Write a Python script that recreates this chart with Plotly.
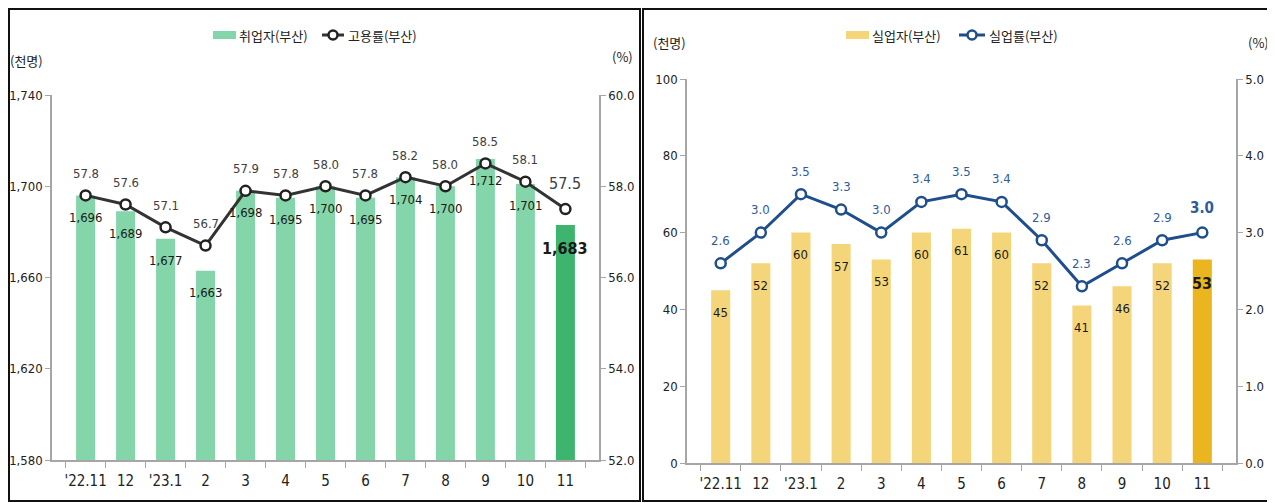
import plotly.graph_objects as go
from plotly.subplots import make_subplots

# ---------------- data ----------------
months = ["'22.11", "12", "'23.1", "2", "3", "4", "5", "6", "7", "8", "9", "10", "11"]
employed = [1696, 1689, 1677, 1663, 1698, 1695, 1700, 1695, 1704, 1700, 1712, 1701, 1683]
emp_rate = [57.8, 57.6, 57.1, 56.7, 57.9, 57.8, 58.0, 57.8, 58.2, 58.0, 58.5, 58.1, 57.5]
unemployed = [45, 52, 60, 57, 53, 60, 61, 60, 52, 41, 46, 52, 53]
unemp_rate = [2.6, 3.0, 3.5, 3.3, 3.0, 3.4, 3.5, 3.4, 2.9, 2.3, 2.6, 2.9, 3.0]

left_ticks = [1580, 1620, 1660, 1700, 1740]
left_ticks2 = [52.0, 54.0, 56.0, 58.0, 60.0]
right_ticks = [0, 20, 40, 60, 80, 100]
right_ticks2 = [0.0, 1.0, 2.0, 3.0, 4.0, 5.0]

# ---------------- style ----------------
OFF = 8  # page body margin in the browser
W, H = 1275 - OFF, 503 - OFF
FONT = "Liberation Sans Narrow, DejaVu Sans Condensed, Noto Sans CJK KR, sans-serif"
KFONT = "Noto Sans CJK KR, sans-serif"
G_BAR, G_LAST = "#84D6AA", "#3DB56F"
Y_BAR, Y_LAST = "#F5D57A", "#EBB520"
BLACK_LINE = "#333333"
BLUE_LINE = "#1F4E8C"
AXIS_C = "#A6A6A6"


def px(x):
    return (x - OFF) / W


def py(y):
    return 1 - (y - OFF) / H


n = len(months)
fig = make_subplots(rows=1, cols=2, specs=[[{"secondary_y": True}, {"secondary_y": True}]])

fig.add_trace(go.Bar(x=months, y=employed, width=0.475,
                     marker=dict(color=[G_BAR] * (n - 1) + [G_LAST], line=dict(width=0)),
                     showlegend=False, hoverinfo="skip"), row=1, col=1, secondary_y=False)
fig.add_trace(go.Scatter(x=months, y=emp_rate, mode="lines+markers",
                         line=dict(color=BLACK_LINE, width=3),
                         marker=dict(size=10, color="white", line=dict(color="#222222", width=2.5)),
                         showlegend=False, hoverinfo="skip"), row=1, col=1, secondary_y=True)
fig.add_trace(go.Bar(x=months, y=unemployed, width=0.475,
                     marker=dict(color=[Y_BAR] * (n - 1) + [Y_LAST], line=dict(width=0)),
                     showlegend=False, hoverinfo="skip"), row=1, col=2, secondary_y=False)
fig.add_trace(go.Scatter(x=months, y=unemp_rate, mode="lines+markers",
                         line=dict(color=BLUE_LINE, width=3),
                         marker=dict(size=10, color="white", line=dict(color=BLUE_LINE, width=2.5)),
                         showlegend=False, hoverinfo="skip"), row=1, col=2, secondary_y=True)

ann = []
for i in range(n):
    last = i == n - 1
    ann.append(dict(x=i, y=employed[i], xref="x", yref="y", text=f"{employed[i]:,}",
                    showarrow=False, yshift=-22 if not last else -23,
                    font=dict(family=FONT, size=13 if not last else 16, color="#1a1a1a",
                              weight="bold" if last else "normal")))
    ann.append(dict(x=i, y=emp_rate[i], xref="x", yref="y2", text=f"{emp_rate[i]:.1f}",
                    showarrow=False, yshift=22 if not last else 26,
                    font=dict(family=FONT, size=13 if not last else 16, color="#404040")))
    ann.append(dict(x=i, y=unemployed[i], xref="x2", yref="y3", text=f"{unemployed[i]}",
                    showarrow=False, yshift=-22 if not last else -24,
                    font=dict(family=FONT, size=13 if not last else 16, color="#1a1a1a",
                              weight="bold" if last else "normal")))
    ann.append(dict(x=i, y=unemp_rate[i], xref="x2", yref="y4", text=f"{unemp_rate[i]:.1f}",
                    showarrow=False, yshift=23 if not last else 25,
                    font=dict(family=FONT, size=13 if not last else 15, color="#2E5C9A",
                              weight="bold" if last else "normal")))


def label(x, y, t, anchor="left", size=14, fam=KFONT, color="#222222"):
    ann.append(dict(x=px(x), y=py(y), xref="paper", yref="paper", text=t, showarrow=False,
                    xanchor=anchor, yanchor="middle", font=dict(family=fam, size=size, color=color)))


# axis unit titles
label(8, 60, "(천명)", size=13)
label(610, 57, "(%)", size=13)
label(651, 42, "(천명)", size=13)
label(1246, 42, "(%)", size=13)

# custom legends
label(237, 35, "취업자(부산)", size=13)
label(346, 35, "고용률(부산)", size=13)
label(870, 35, "실업자(부산)", size=13)
label(987, 35, "실업률(부산)", size=13)

shapes = [
    dict(type="rect", xref="paper", yref="paper", x0=px(213), x1=px(236), y0=py(39), y1=py(31),
         fillcolor=G_BAR, line=dict(width=0)),
    dict(type="line", xref="paper", yref="paper", x0=px(322), x1=px(344), y0=py(35), y1=py(35),
         line=dict(color=BLACK_LINE, width=3)),
    dict(type="circle", xref="paper", yref="paper", x0=px(328.5), x1=px(337.5), y0=py(39.5), y1=py(30.5),
         fillcolor="white", line=dict(color="#222222", width=2.5)),
    dict(type="rect", xref="paper", yref="paper", x0=px(846), x1=px(869), y0=py(39), y1=py(31),
         fillcolor=Y_BAR, line=dict(width=0)),
    dict(type="line", xref="paper", yref="paper", x0=px(959), x1=px(985), y0=py(35), y1=py(35),
         line=dict(color=BLUE_LINE, width=3)),
    dict(type="circle", xref="paper", yref="paper", x0=px(967.5), x1=px(976.5), y0=py(39.5), y1=py(30.5),
         fillcolor="white", line=dict(color=BLUE_LINE, width=2.5)),
    # panel borders
    dict(type="rect", xref="paper", yref="paper", x0=px(9), x1=px(640), y0=py(501), y1=py(9),
         line=dict(color="#111111", width=2), fillcolor="rgba(0,0,0,0)"),
    dict(type="rect", xref="paper", yref="paper", x0=px(643), x1=px(1272), y0=py(501), y1=py(9),
         line=dict(color="#111111", width=2), fillcolor="rgba(0,0,0,0)"),
]

tickfont = dict(family=FONT, size=13, color="#222222")
common_y = dict(showgrid=False, zeroline=False, showline=True, linecolor=AXIS_C, linewidth=1.5,
                ticks="outside", ticklen=5, tickcolor=AXIS_C, tickfont=tickfont, automargin=False)
common_x = dict(showgrid=False, zeroline=False, showline=True, linecolor=AXIS_C, linewidth=1.5,
                ticks="outside", ticklen=6, tickcolor=AXIS_C, tickson="boundaries", tickangle=0,
                ticklabelstandoff=6,
                tickfont=dict(family=FONT, size=15, color="#222222"), automargin=False)

fig.update_layout(
    width=W, height=H, autosize=False,
    margin=dict(l=0, r=0, t=0, b=0),
    paper_bgcolor="white", plot_bgcolor="white",
    xaxis=dict(domain=[px(52), px(599)], **common_x),
    xaxis2=dict(domain=[px(687), px(1236)], **common_x),
    yaxis=dict(domain=[py(460), py(95)], range=[1580, 1740], tickvals=left_ticks,
               tickformat=",d", **common_y),
    yaxis2=dict(domain=[py(460), py(95)], range=[52, 60], tickvals=left_ticks2,
                tickformat=".1f", **common_y),
    yaxis3=dict(domain=[py(463), py(79)], range=[0, 100], tickvals=right_ticks, **common_y),
    yaxis4=dict(domain=[py(463), py(79)], range=[0, 5], tickvals=right_ticks2,
                tickformat=".1f", **common_y),
    annotations=ann,
    shapes=shapes,
)

fig.write_html("out.html")
